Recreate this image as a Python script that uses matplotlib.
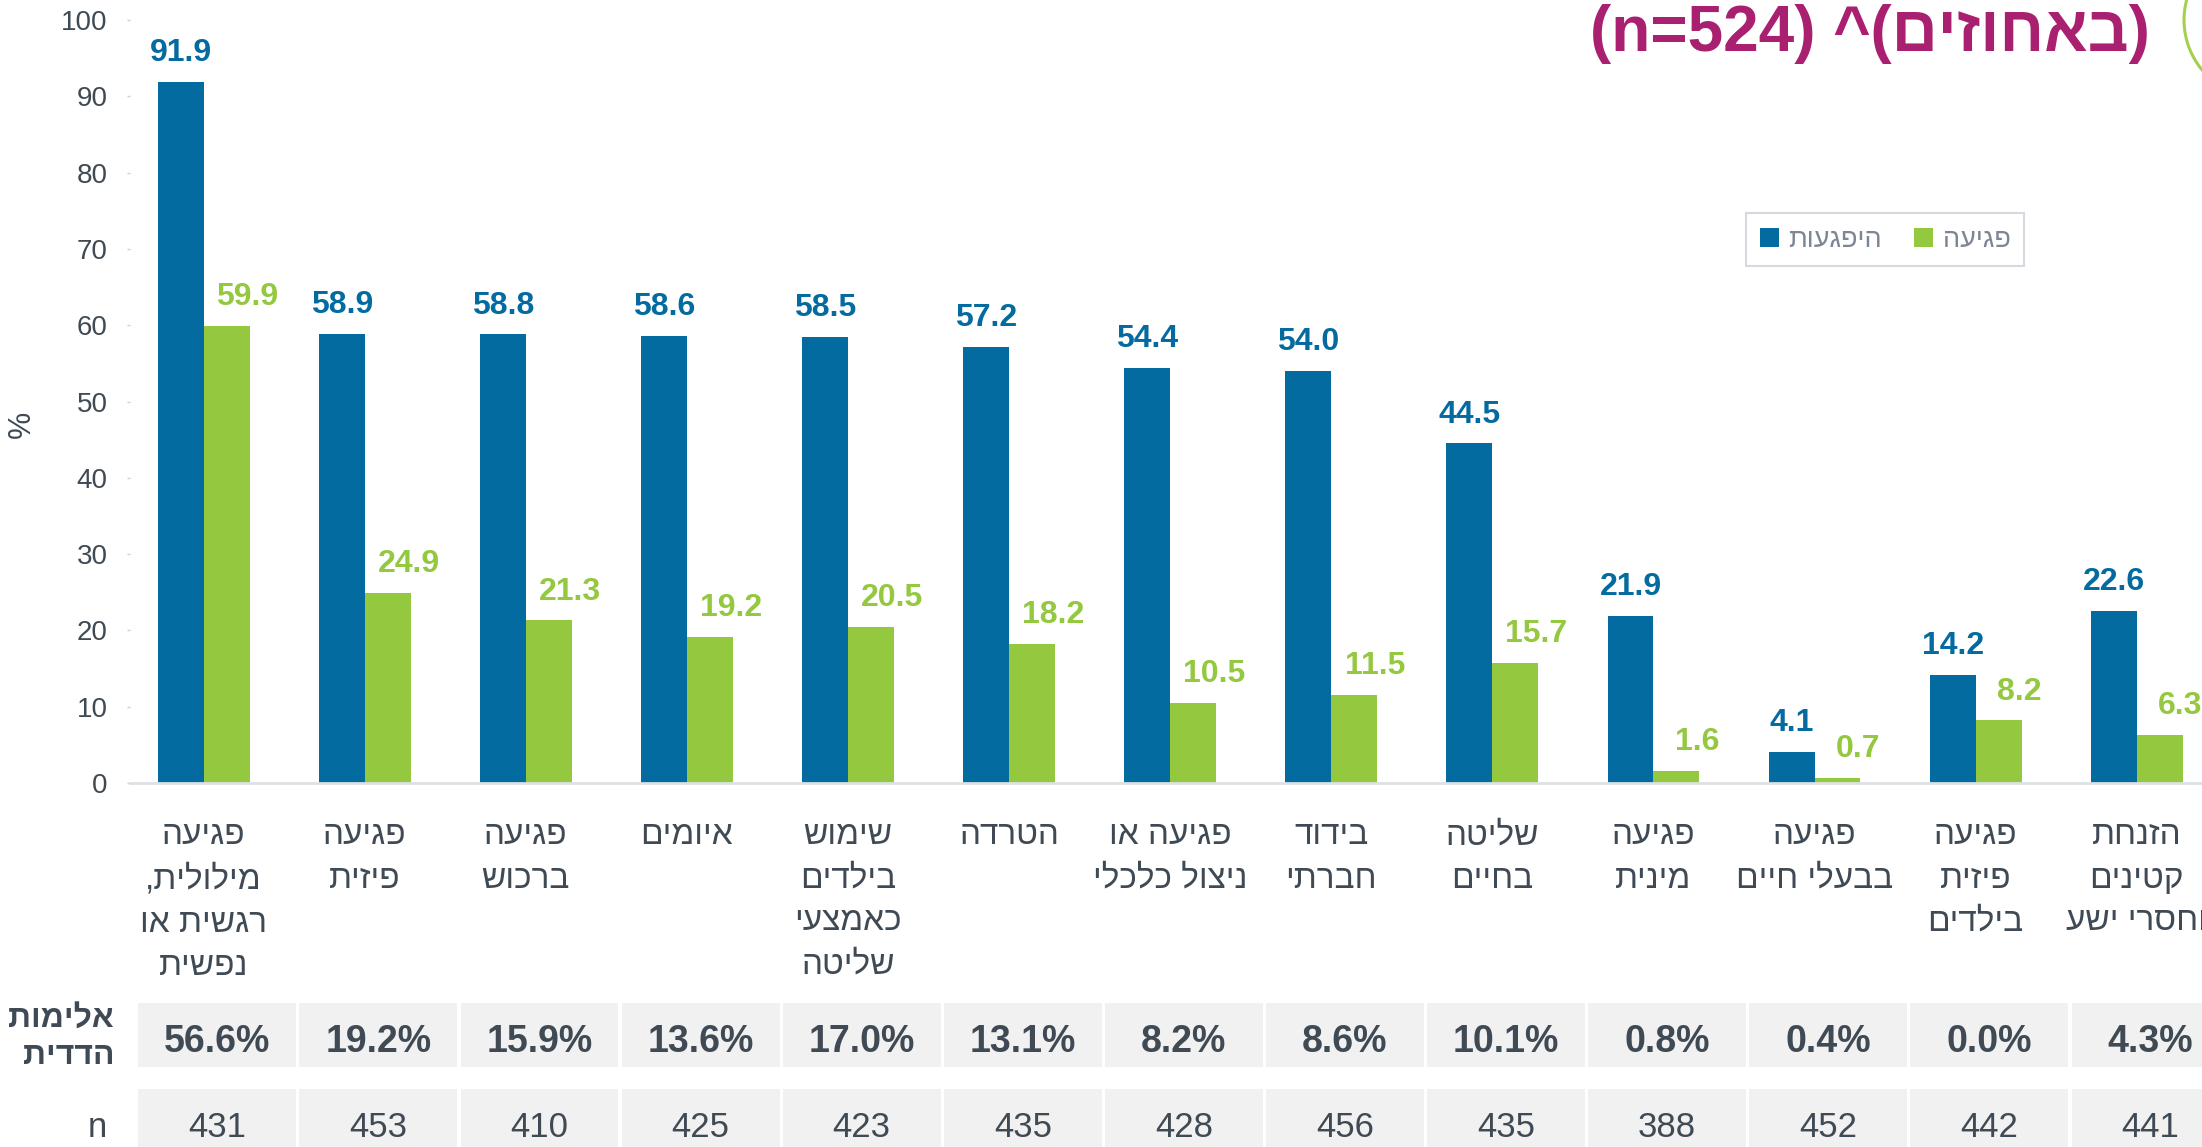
import matplotlib
matplotlib.use('Agg')
import matplotlib.pyplot as plt
from matplotlib.patches import Rectangle, Ellipse
import numpy as np

# Data
categories = [
    'פגיעה\nמילולית,\nרגשית או\nנפשית',
    'פגיעה\nפיזית',
    'פגיעה\nברכוש',
    'איומים',
    'שימוש\nבילדים\nכאמצעי\nשליטה',
    'הטרדה',
    'פגיעה או\nניצול כלכלי',
    'בידוד\nחברתי',
    'שליטה\nבחיים',
    'פגיעה\nמינית',
    'פגיעה\nבבעלי חיים',
    'פגיעה\nפיזית\nבילדים',
    'הזנחת\nקטינים\nוחסרי ישע',
]
exposure = [91.9, 58.9, 58.8, 58.6, 58.5, 57.2, 54.4, 54.0, 44.5, 21.9, 4.1, 14.2, 22.6]
harm = [59.9, 24.9, 21.3, 19.2, 20.5, 18.2, 10.5, 11.5, 15.7, 1.6, 0.7, 8.2, 6.3]
mutual = [56.6, 19.2, 15.9, 13.6, 17.0, 13.1, 8.2, 8.6, 10.1, 0.8, 0.4, 0.0, 4.3]
n_vals = [431, 453, 410, 425, 423, 435, 428, 456, 435, 388, 452, 442, 441]

series_names = ['היפגעות', 'פגיעה']
row_names = ['אלימות\nהדדית', 'n']
title_he = 'באחוזים'

BLUE = '#036BA0'
GREEN = '#93C83F'
TEXT = '#3F4A55'
CELL = '#F1F1F1'
MAGENTA = '#A8206F'

plt.rcParams['font.family'] = ['Liberation Sans', 'DejaVu Sans']


def rtl(s):
    # matplotlib has no bidi support: reverse each Hebrew line for display
    return '\n'.join(line[::-1] for line in s.split('\n'))


W, H = 2202, 1147
fig = plt.figure(figsize=(W / 100, H / 100), dpi=100)

# main axes, placed in pixels
ax_left, ax_bottom, ax_top = 130, 783, 20
ax = fig.add_axes([ax_left / W, 1 - ax_bottom / H, 1 - ax_left / W, (ax_bottom - ax_top) / H])

x = np.arange(len(categories))
bw = 0.285
ax.bar(x - bw / 2, exposure, bw, color=BLUE, label=rtl(series_names[0]))
ax.bar(x + bw / 2, harm, bw, color=GREEN, label=rtl(series_names[1]))

for i in range(len(x)):
    ax.annotate(f'{exposure[i]:.1f}', (x[i] - bw / 2, exposure[i]), xytext=(0, 15),
                textcoords='offset points', ha='center', va='baseline',
                fontsize=23, fontweight='bold', color=BLUE)
    ax.annotate(f'{harm[i]:.1f}', (x[i] + bw / 2, harm[i]), xytext=(15, 15),
                textcoords='offset points', ha='center', va='baseline',
                fontsize=23, fontweight='bold', color=GREEN)

ax.set_xlim(-0.457, 12.405)
ax.set_ylim(0, 100)
ax.set_yticks(range(0, 101, 10))
ax.tick_params(axis='y', labelsize=20, labelcolor=TEXT, color='#D0D0D0',
               length=2.2, width=1, pad=14)
ax.set_xticks(x)
ax.set_xticklabels([rtl(c) for c in categories], fontsize=24, color=TEXT,
                   linespacing=1.5)
ax.tick_params(axis='x', length=0, pad=27)

for s in ['left', 'top', 'right']:
    ax.spines[s].set_visible(False)
ax.spines['bottom'].set_color('#DCE1E6')
ax.spines['bottom'].set_linewidth(2)

fig.text(22 / W, 1 - 424 / H, '%', rotation=90, ha='center', va='center',
         fontsize=22, color=TEXT)

leg = ax.legend(loc='upper left', bbox_to_anchor=(1746 / W, 1 - 213 / H),
                bbox_transform=fig.transFigure, borderaxespad=0, ncol=2,
                fancybox=False, edgecolor='#D5D8DE', framealpha=1, fontsize=19.5,
                handlelength=0.7, handleheight=0.7, handletextpad=0.35,
                columnspacing=1.2, borderpad=0.5, labelcolor='#7B8794')
leg.get_frame().set_linewidth(1.5)

# title (partly cut at the top like the reference)
title = '(n=524) ^(' + rtl(title_he) + ')'
fig.text(2150 / W, 1 - 34 / H, title, ha='right', va='center',
         fontsize=46, fontweight='bold', color=MAGENTA)
fig.add_artist(Ellipse((2262 / W, 1 - 20 / H), 156 / W, 156 / H,
                       transform=fig.transFigure, fill=False,
                       ec='#A5CF4C', lw=2.2))

# table under the chart
ax_t = fig.add_axes([ax_left / W, 0, 1 - ax_left / W, 157 / H])
ax_t.set_xlim(ax.get_xlim())
ax_t.set_ylim(157, 0)
ax_t.axis('off')
for i in range(len(x)):
    ax_t.add_patch(Rectangle((x[i] - 0.405, 13), 0.98, 64, fc=CELL, ec='none'))
    ax_t.add_patch(Rectangle((x[i] - 0.405, 99), 0.98, 70, fc=CELL, ec='none',
                             clip_on=False))
    ax_t.text(x[i] + 0.085, 62, f'{mutual[i]:.1f}%', ha='center', va='baseline',
              fontsize=27, fontweight='bold', color=TEXT)
    ax_t.text(x[i] + 0.085, 147, str(n_vals[i]), ha='center', va='baseline',
              fontsize=25, color=TEXT)

ax_t.text(-0.556, 48, rtl(row_names[0]), ha='right', va='center', fontsize=23,
          fontweight='bold', color=TEXT, linespacing=1.25)
ax_t.text(-0.60, 147, row_names[1], ha='right', va='baseline', fontsize=25,
          color=TEXT)

fig.savefig('out.png', dpi=100)
